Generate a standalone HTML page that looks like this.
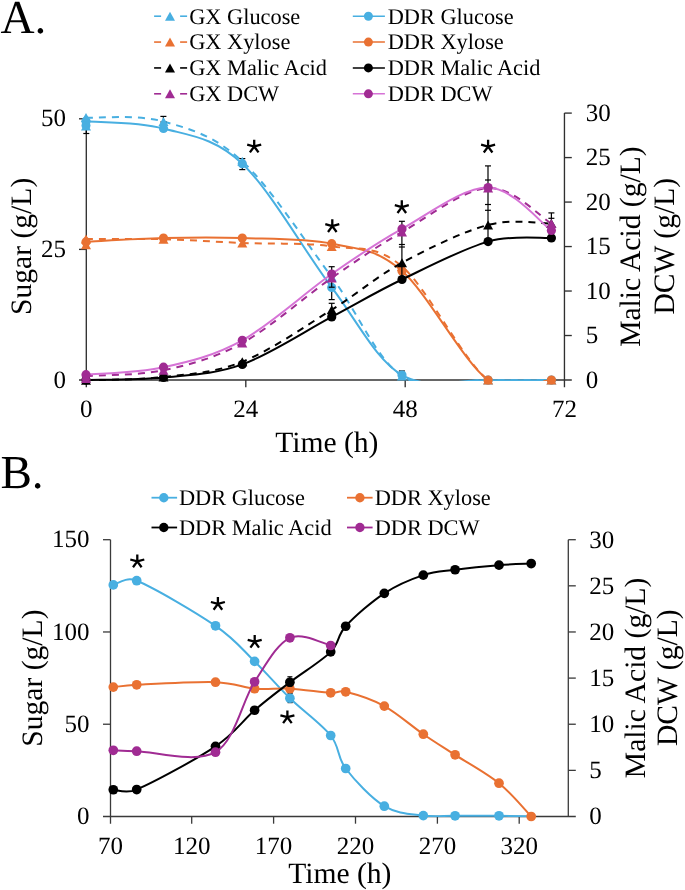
<!DOCTYPE html>
<html><head><meta charset="utf-8"><style>
html,body{margin:0;padding:0;background:#fff;width:685px;height:890px;overflow:hidden}
svg{display:block;will-change:transform}
text{font-family:"Liberation Serif", serif;fill:#000;text-rendering:geometricPrecision}
</style></head><body>
<svg width="685" height="890" viewBox="0 0 685 890">
<line x1="86.30" y1="117.00" x2="86.30" y2="387.30" stroke="#303030" stroke-width="1.35"/>
<line x1="564.45" y1="113.10" x2="564.45" y2="387.30" stroke="#303030" stroke-width="1.35"/>
<line x1="79.00" y1="380.00" x2="571.80" y2="380.00" stroke="#333333" stroke-width="1.50"/>
<line x1="79.00" y1="249.40" x2="86.30" y2="249.40" stroke="#303030" stroke-width="1.35"/>
<line x1="79.00" y1="118.80" x2="86.30" y2="118.80" stroke="#303030" stroke-width="1.35"/>
<line x1="564.45" y1="335.52" x2="571.80" y2="335.52" stroke="#303030" stroke-width="1.35"/>
<line x1="564.45" y1="291.03" x2="571.80" y2="291.03" stroke="#303030" stroke-width="1.35"/>
<line x1="564.45" y1="246.55" x2="571.80" y2="246.55" stroke="#303030" stroke-width="1.35"/>
<line x1="564.45" y1="202.07" x2="571.80" y2="202.07" stroke="#303030" stroke-width="1.35"/>
<line x1="564.45" y1="157.58" x2="571.80" y2="157.58" stroke="#303030" stroke-width="1.35"/>
<line x1="564.45" y1="113.10" x2="571.80" y2="113.10" stroke="#303030" stroke-width="1.35"/>
<line x1="245.80" y1="380.00" x2="245.80" y2="387.30" stroke="#303030" stroke-width="1.35"/>
<line x1="405.20" y1="380.00" x2="405.20" y2="387.30" stroke="#303030" stroke-width="1.35"/>
<clipPath id="ca"><rect x="80" y="100" width="490" height="281"/></clipPath>
<clipPath id="cb"><rect x="100" y="530" width="480" height="287.3"/></clipPath>
<g clip-path="url(#ca)">
<path d="M86.00,117.60 C98.92,118.25 137.45,114.22 163.50,121.50 C189.55,128.78 214.27,135.38 242.30,161.30 C270.33,187.22 305.08,241.22 331.70,277.00 C358.32,312.78 375.93,358.83 402.00,376.00 C428.07,393.17 463.20,379.33 488.10,380.00 C513.00,380.67 540.85,380.00 551.40,380.00" fill="none" stroke="#48AFE1" stroke-width="2.00" stroke-dasharray="7 6"/>
<path d="M86.00,121.20 C98.92,122.42 137.45,121.42 163.50,128.50 C189.55,135.58 214.27,137.22 242.30,163.70 C270.33,190.18 305.08,252.17 331.70,287.40 C358.32,322.63 375.93,359.67 402.00,375.10 C428.07,390.53 463.20,379.18 488.10,380.00 C513.00,380.82 540.85,380.00 551.40,380.00" fill="none" stroke="#48AFE1" stroke-width="2.00"/>
<path d="M86.00,239.10 C98.92,239.12 137.45,238.55 163.50,239.20 C189.55,239.85 214.27,241.80 242.30,243.00 C270.33,244.20 305.08,242.48 331.70,246.40 C358.32,250.32 375.93,244.23 402.00,266.50 C428.07,288.77 463.20,361.08 488.10,380.00 C513.00,398.92 540.85,380.00 551.40,380.00" fill="none" stroke="#E97132" stroke-width="2.00" stroke-dasharray="7 6"/>
<path d="M86.00,241.90 C98.92,241.27 137.45,238.73 163.50,238.10 C189.55,237.47 214.27,237.17 242.30,238.10 C270.33,239.03 305.08,238.22 331.70,243.70 C358.32,249.18 375.93,248.28 402.00,271.00 C428.07,293.72 463.20,361.83 488.10,380.00 C513.00,398.17 540.85,380.00 551.40,380.00" fill="none" stroke="#E97132" stroke-width="2.00"/>
<path d="M86.00,380.30 C98.92,379.75 137.45,380.08 163.50,377.00 C189.55,373.92 214.27,373.00 242.30,361.80 C270.33,350.60 305.08,326.30 331.70,309.80 C358.32,293.30 375.93,276.95 402.00,262.80 C428.07,248.65 463.20,231.43 488.10,224.90 C513.00,218.37 540.85,223.82 551.40,223.60" fill="none" stroke="#000000" stroke-width="2.00" stroke-dasharray="7 6"/>
<path d="M86.00,380.00 C98.92,379.58 137.45,380.10 163.50,377.50 C189.55,374.90 214.27,374.50 242.30,364.40 C270.33,354.30 305.08,331.05 331.70,316.90 C358.32,302.75 375.93,292.05 402.00,279.50 C428.07,266.95 463.20,248.52 488.10,241.60 C513.00,234.68 540.85,238.60 551.40,238.00" fill="none" stroke="#000000" stroke-width="2.00"/>
<path d="M86.00,376.00 C98.92,375.03 137.45,375.70 163.50,370.20 C189.55,364.70 214.27,358.37 242.30,343.00 C270.33,327.63 305.08,296.50 331.70,278.00 C358.32,259.50 375.93,247.00 402.00,232.00 C428.07,217.00 463.20,189.42 488.10,188.00 C513.00,186.58 540.85,217.58 551.40,223.50" fill="none" stroke="#A02B93" stroke-width="2.00" stroke-dasharray="7 6"/>
<path d="M86.00,374.70 C98.92,373.45 137.45,372.93 163.50,367.20 C189.55,361.47 214.27,355.83 242.30,340.30 C270.33,324.77 305.08,292.57 331.70,274.00 C358.32,255.43 375.93,243.30 402.00,228.90 C428.07,214.50 463.20,187.33 488.10,187.60 C513.00,187.87 540.85,223.35 551.40,230.50" fill="none" stroke="#D673D6" stroke-width="2.00"/>
</g>
<line x1="86.30" y1="126.00" x2="86.30" y2="133.50" stroke="#000" stroke-width="1.2"/><line x1="83.30" y1="133.50" x2="89.30" y2="133.50" stroke="#000" stroke-width="1.2"/>
<line x1="163.40" y1="116.40" x2="163.40" y2="122.00" stroke="#000" stroke-width="1.2"/><line x1="160.40" y1="116.40" x2="166.40" y2="116.40" stroke="#000" stroke-width="1.2"/><line x1="160.40" y1="122.00" x2="166.40" y2="122.00" stroke="#000" stroke-width="1.2"/>
<line x1="242.30" y1="158.60" x2="242.30" y2="169.60" stroke="#000" stroke-width="1.2"/><line x1="239.30" y1="158.60" x2="245.30" y2="158.60" stroke="#000" stroke-width="1.2"/><line x1="239.30" y1="169.60" x2="245.30" y2="169.60" stroke="#000" stroke-width="1.2"/>
<line x1="331.70" y1="287.40" x2="331.70" y2="299.60" stroke="#000" stroke-width="1.2"/><line x1="328.70" y1="299.60" x2="334.70" y2="299.60" stroke="#000" stroke-width="1.2"/>
<line x1="401.90" y1="371.00" x2="401.90" y2="375.00" stroke="#000" stroke-width="1.2"/><line x1="398.90" y1="371.00" x2="404.90" y2="371.00" stroke="#000" stroke-width="1.2"/>
<circle cx="86.00" cy="121.20" r="4.60" fill="#48AFE1"/>
<circle cx="163.50" cy="128.50" r="4.60" fill="#48AFE1"/>
<circle cx="242.30" cy="163.70" r="4.60" fill="#48AFE1"/>
<circle cx="331.70" cy="287.40" r="4.60" fill="#48AFE1"/>
<circle cx="402.00" cy="375.10" r="4.60" fill="#48AFE1"/>
<circle cx="488.10" cy="380.00" r="4.60" fill="#48AFE1"/>
<circle cx="551.40" cy="380.00" r="4.60" fill="#48AFE1"/>
<path d="M86.00,113.10 L91.00,122.10 L81.00,122.10 Z" fill="#48AFE1"/>
<path d="M163.50,117.00 L168.50,126.00 L158.50,126.00 Z" fill="#48AFE1"/>
<path d="M242.30,156.80 L247.30,165.80 L237.30,165.80 Z" fill="#48AFE1"/>
<path d="M331.70,272.50 L336.70,281.50 L326.70,281.50 Z" fill="#48AFE1"/>
<path d="M402.00,371.50 L407.00,380.50 L397.00,380.50 Z" fill="#48AFE1"/>
<path d="M488.10,375.50 L493.10,384.50 L483.10,384.50 Z" fill="#48AFE1"/>
<path d="M551.40,375.50 L556.40,384.50 L546.40,384.50 Z" fill="#48AFE1"/>
<circle cx="86.00" cy="241.90" r="4.60" fill="#E97132"/>
<circle cx="163.50" cy="238.10" r="4.60" fill="#E97132"/>
<circle cx="242.30" cy="238.10" r="4.60" fill="#E97132"/>
<circle cx="331.70" cy="243.70" r="4.60" fill="#E97132"/>
<circle cx="402.00" cy="271.00" r="4.60" fill="#E97132"/>
<circle cx="488.10" cy="380.00" r="4.60" fill="#E97132"/>
<circle cx="551.40" cy="380.00" r="4.60" fill="#E97132"/>
<path d="M86.00,234.60 L91.00,243.60 L81.00,243.60 Z" fill="#E97132"/>
<path d="M163.50,234.70 L168.50,243.70 L158.50,243.70 Z" fill="#E97132"/>
<path d="M242.30,238.50 L247.30,247.50 L237.30,247.50 Z" fill="#E97132"/>
<path d="M331.70,241.90 L336.70,250.90 L326.70,250.90 Z" fill="#E97132"/>
<path d="M402.00,262.00 L407.00,271.00 L397.00,271.00 Z" fill="#E97132"/>
<path d="M488.10,375.50 L493.10,384.50 L483.10,384.50 Z" fill="#E97132"/>
<path d="M551.40,375.50 L556.40,384.50 L546.40,384.50 Z" fill="#E97132"/>
<line x1="331.70" y1="266.70" x2="331.70" y2="287.20" stroke="#000" stroke-width="1.2"/><line x1="328.70" y1="266.70" x2="334.70" y2="266.70" stroke="#000" stroke-width="1.2"/><line x1="328.70" y1="287.20" x2="334.70" y2="287.20" stroke="#000" stroke-width="1.2"/>
<line x1="331.70" y1="303.30" x2="331.70" y2="311.00" stroke="#000" stroke-width="1.2"/><line x1="328.70" y1="303.30" x2="334.70" y2="303.30" stroke="#000" stroke-width="1.2"/>
<line x1="401.90" y1="221.30" x2="401.90" y2="278.00" stroke="#000" stroke-width="1.2"/><line x1="398.90" y1="221.30" x2="404.90" y2="221.30" stroke="#000" stroke-width="1.2"/><line x1="398.90" y1="244.50" x2="404.90" y2="244.50" stroke="#000" stroke-width="1.2"/><line x1="398.90" y1="247.00" x2="404.90" y2="247.00" stroke="#000" stroke-width="1.2"/>
<line x1="488.00" y1="165.90" x2="488.00" y2="240.00" stroke="#000" stroke-width="1.2"/><line x1="485.00" y1="165.90" x2="491.00" y2="165.90" stroke="#000" stroke-width="1.2"/><line x1="485.00" y1="180.00" x2="491.00" y2="180.00" stroke="#000" stroke-width="1.2"/><line x1="485.00" y1="204.50" x2="491.00" y2="204.50" stroke="#000" stroke-width="1.2"/><line x1="485.00" y1="210.30" x2="491.00" y2="210.30" stroke="#000" stroke-width="1.2"/>
<line x1="551.40" y1="212.90" x2="551.40" y2="222.00" stroke="#000" stroke-width="1.2"/><line x1="548.40" y1="212.90" x2="554.40" y2="212.90" stroke="#000" stroke-width="1.2"/><line x1="548.40" y1="218.30" x2="554.40" y2="218.30" stroke="#000" stroke-width="1.2"/>
<circle cx="86.00" cy="380.00" r="4.60" fill="#000000"/>
<circle cx="163.50" cy="377.50" r="4.60" fill="#000000"/>
<circle cx="242.30" cy="364.40" r="4.60" fill="#000000"/>
<circle cx="331.70" cy="316.90" r="4.60" fill="#000000"/>
<circle cx="402.00" cy="279.50" r="4.60" fill="#000000"/>
<circle cx="488.10" cy="241.60" r="4.60" fill="#000000"/>
<circle cx="551.40" cy="238.00" r="4.60" fill="#000000"/>
<path d="M86.00,375.80 L91.00,384.80 L81.00,384.80 Z" fill="#000000"/>
<path d="M163.50,372.50 L168.50,381.50 L158.50,381.50 Z" fill="#000000"/>
<path d="M242.30,357.30 L247.30,366.30 L237.30,366.30 Z" fill="#000000"/>
<path d="M331.70,305.30 L336.70,314.30 L326.70,314.30 Z" fill="#000000"/>
<path d="M402.00,258.30 L407.00,267.30 L397.00,267.30 Z" fill="#000000"/>
<path d="M488.10,220.40 L493.10,229.40 L483.10,229.40 Z" fill="#000000"/>
<path d="M551.40,219.10 L556.40,228.10 L546.40,228.10 Z" fill="#000000"/>
<circle cx="86.00" cy="374.70" r="4.60" fill="#A02B93"/>
<circle cx="163.50" cy="367.20" r="4.60" fill="#A02B93"/>
<circle cx="242.30" cy="340.30" r="4.60" fill="#A02B93"/>
<circle cx="331.70" cy="274.00" r="4.60" fill="#A02B93"/>
<circle cx="402.00" cy="228.90" r="4.60" fill="#A02B93"/>
<circle cx="488.10" cy="187.60" r="4.60" fill="#A02B93"/>
<circle cx="551.40" cy="230.50" r="4.60" fill="#A02B93"/>
<path d="M86.00,371.50 L91.00,380.50 L81.00,380.50 Z" fill="#A02B93"/>
<path d="M163.50,365.70 L168.50,374.70 L158.50,374.70 Z" fill="#A02B93"/>
<path d="M242.30,338.50 L247.30,347.50 L237.30,347.50 Z" fill="#A02B93"/>
<path d="M331.70,273.50 L336.70,282.50 L326.70,282.50 Z" fill="#A02B93"/>
<path d="M402.00,227.50 L407.00,236.50 L397.00,236.50 Z" fill="#A02B93"/>
<path d="M488.10,183.50 L493.10,192.50 L483.10,192.50 Z" fill="#A02B93"/>
<path d="M551.40,219.00 L556.40,228.00 L546.40,228.00 Z" fill="#A02B93"/>
<circle cx="86.00" cy="125.50" r="4.50" fill="#48AFE1"/>
<path d="M86.00,121.60 L91.00,130.60 L81.00,130.60 Z" fill="#48AFE1"/>
<path d="M86.00,240.20 L91.00,249.20 L81.00,249.20 Z" fill="#E97132"/>
<path d="M86.00,374.10 L91.00,383.10 L81.00,383.10 Z" fill="#A02B93"/>
<path d="M254.20,146.50 L254.20,139.70 M254.20,146.50 L247.20,144.60 M254.20,146.50 L261.20,144.60 M254.20,146.50 L249.90,152.40 M254.20,146.50 L258.50,152.40" stroke="#000" stroke-width="2.3" fill="none"/>
<path d="M332.30,226.10 L332.30,219.30 M332.30,226.10 L325.30,224.20 M332.30,226.10 L339.30,224.20 M332.30,226.10 L328.00,232.00 M332.30,226.10 L336.60,232.00" stroke="#000" stroke-width="2.3" fill="none"/>
<path d="M401.80,207.10 L401.80,200.30 M401.80,207.10 L394.80,205.20 M401.80,207.10 L408.80,205.20 M401.80,207.10 L397.50,213.00 M401.80,207.10 L406.10,213.00" stroke="#000" stroke-width="2.3" fill="none"/>
<path d="M488.10,146.60 L488.10,139.80 M488.10,146.60 L481.10,144.70 M488.10,146.60 L495.10,144.70 M488.10,146.60 L483.80,152.50 M488.10,146.60 L492.40,152.50" stroke="#000" stroke-width="2.3" fill="none"/>
<text x="66.00" y="387.60" font-size="25.00" text-anchor="end">0</text>
<text x="66.00" y="257.00" font-size="25.00" text-anchor="end">25</text>
<text x="66.00" y="126.40" font-size="25.00" text-anchor="end">50</text>
<text x="585.80" y="387.90" font-size="25.00" text-anchor="start">0</text>
<text x="585.80" y="343.42" font-size="25.00" text-anchor="start">5</text>
<text x="585.80" y="298.93" font-size="25.00" text-anchor="start">10</text>
<text x="585.80" y="254.45" font-size="25.00" text-anchor="start">15</text>
<text x="585.80" y="209.97" font-size="25.00" text-anchor="start">20</text>
<text x="585.80" y="165.48" font-size="25.00" text-anchor="start">25</text>
<text x="585.80" y="121.00" font-size="25.00" text-anchor="start">30</text>
<text x="86.30" y="416.80" font-size="25.00" text-anchor="middle">0</text>
<text x="245.80" y="416.80" font-size="25.00" text-anchor="middle">24</text>
<text x="405.20" y="416.80" font-size="25.00" text-anchor="middle">48</text>
<text x="564.45" y="416.80" font-size="25.00" text-anchor="middle">72</text>
<text x="326.80" y="451.70" font-size="29.60" text-anchor="middle">Time (h)</text>
<text x="30.80" y="246.40" font-size="29.60" text-anchor="middle" transform="rotate(-90 30.80 246.40)">Sugar (g/L)</text>
<text x="640.50" y="246.60" font-size="29.60" text-anchor="middle" transform="rotate(-90 640.50 246.60)">Malic Acid (g/L)</text>
<text x="674.10" y="246.20" font-size="29.60" text-anchor="middle" transform="rotate(-90 674.10 246.20)">DCW (g/L)</text>
<text x="0.40" y="32.90" font-size="47.20" text-anchor="start">A.</text>
<line x1="154.10" y1="16.20" x2="161.10" y2="16.20" stroke="#48AFE1" stroke-width="1.60"/>
<line x1="180.10" y1="16.20" x2="187.10" y2="16.20" stroke="#48AFE1" stroke-width="1.60"/>
<path d="M170.00,11.70 L175.00,20.70 L165.00,20.70 Z" fill="#48AFE1"/>
<text x="189.20" y="23.50" font-size="22.35" text-anchor="start">GX Glucose</text>
<line x1="352.80" y1="16.20" x2="384.90" y2="16.20" stroke="#48AFE1" stroke-width="1.60"/>
<circle cx="368.40" cy="16.20" r="4.50" fill="#48AFE1"/>
<text x="387.70" y="23.50" font-size="22.35" text-anchor="start">DDR Glucose</text>
<line x1="154.10" y1="42.07" x2="161.10" y2="42.07" stroke="#E97132" stroke-width="1.60"/>
<line x1="180.10" y1="42.07" x2="187.10" y2="42.07" stroke="#E97132" stroke-width="1.60"/>
<path d="M170.00,37.57 L175.00,46.57 L165.00,46.57 Z" fill="#E97132"/>
<text x="189.20" y="49.37" font-size="22.35" text-anchor="start">GX Xylose</text>
<line x1="352.80" y1="42.07" x2="384.90" y2="42.07" stroke="#E97132" stroke-width="1.60"/>
<circle cx="368.40" cy="42.07" r="4.50" fill="#E97132"/>
<text x="387.70" y="49.37" font-size="22.35" text-anchor="start">DDR Xylose</text>
<line x1="154.10" y1="67.94" x2="161.10" y2="67.94" stroke="#000000" stroke-width="1.60"/>
<line x1="180.10" y1="67.94" x2="187.10" y2="67.94" stroke="#000000" stroke-width="1.60"/>
<path d="M170.00,63.44 L175.00,72.44 L165.00,72.44 Z" fill="#000000"/>
<text x="189.20" y="75.24" font-size="22.35" text-anchor="start">GX Malic Acid</text>
<line x1="352.80" y1="67.94" x2="384.90" y2="67.94" stroke="#000000" stroke-width="1.60"/>
<circle cx="368.40" cy="67.94" r="4.50" fill="#000000"/>
<text x="387.70" y="75.24" font-size="22.35" text-anchor="start">DDR Malic Acid</text>
<line x1="154.10" y1="93.81" x2="161.10" y2="93.81" stroke="#A02B93" stroke-width="1.60"/>
<line x1="180.10" y1="93.81" x2="187.10" y2="93.81" stroke="#A02B93" stroke-width="1.60"/>
<path d="M170.00,89.31 L175.00,98.31 L165.00,98.31 Z" fill="#A02B93"/>
<text x="189.20" y="101.11" font-size="22.35" text-anchor="start">GX DCW</text>
<line x1="352.80" y1="93.81" x2="384.90" y2="93.81" stroke="#D673D6" stroke-width="1.60"/>
<circle cx="368.40" cy="93.81" r="4.50" fill="#A02B93"/>
<text x="387.70" y="101.11" font-size="22.35" text-anchor="start">DDR DCW</text>
<line x1="110.50" y1="539.70" x2="110.50" y2="823.70" stroke="#3a3a3a" stroke-width="1.30"/>
<line x1="568.30" y1="539.70" x2="568.30" y2="816.50" stroke="#3a3a3a" stroke-width="1.30"/>
<line x1="103.00" y1="816.50" x2="575.80" y2="816.50" stroke="#3a3a3a" stroke-width="1.30"/>
<line x1="103.00" y1="724.23" x2="110.50" y2="724.23" stroke="#3a3a3a" stroke-width="1.30"/>
<line x1="103.00" y1="631.97" x2="110.50" y2="631.97" stroke="#3a3a3a" stroke-width="1.30"/>
<line x1="103.00" y1="539.70" x2="110.50" y2="539.70" stroke="#3a3a3a" stroke-width="1.30"/>
<line x1="568.30" y1="770.37" x2="575.80" y2="770.37" stroke="#3a3a3a" stroke-width="1.30"/>
<line x1="568.30" y1="724.23" x2="575.80" y2="724.23" stroke="#3a3a3a" stroke-width="1.30"/>
<line x1="568.30" y1="678.10" x2="575.80" y2="678.10" stroke="#3a3a3a" stroke-width="1.30"/>
<line x1="568.30" y1="631.97" x2="575.80" y2="631.97" stroke="#3a3a3a" stroke-width="1.30"/>
<line x1="568.30" y1="585.83" x2="575.80" y2="585.83" stroke="#3a3a3a" stroke-width="1.30"/>
<line x1="568.30" y1="539.70" x2="575.80" y2="539.70" stroke="#3a3a3a" stroke-width="1.30"/>
<line x1="191.70" y1="816.50" x2="191.70" y2="823.70" stroke="#3a3a3a" stroke-width="1.30"/>
<line x1="273.60" y1="816.50" x2="273.60" y2="823.70" stroke="#3a3a3a" stroke-width="1.30"/>
<line x1="355.50" y1="816.50" x2="355.50" y2="823.70" stroke="#3a3a3a" stroke-width="1.30"/>
<line x1="437.40" y1="816.50" x2="437.40" y2="823.70" stroke="#3a3a3a" stroke-width="1.30"/>
<line x1="519.20" y1="816.50" x2="519.20" y2="823.70" stroke="#3a3a3a" stroke-width="1.30"/>
<path d="M113.30,584.90 C117.20,584.20 125.66,576.28 136.70,580.70 C153.73,587.52 195.85,612.35 215.50,625.80 C235.15,639.25 242.20,649.33 254.60,661.40 C267.00,673.47 277.22,685.85 289.90,698.20 C302.58,710.55 321.40,723.78 330.70,735.50 C340.00,747.22 336.77,756.72 345.70,768.50 C354.63,780.28 371.37,798.35 384.30,806.20 C397.23,814.05 411.50,814.00 423.30,815.60 C435.10,817.20 442.48,815.77 455.10,815.80 C467.72,815.83 486.32,815.72 499.00,815.80 C511.68,815.88 525.83,816.22 531.20,816.30" fill="none" stroke="#48AFE1" stroke-width="2.00" clip-path="url(#cb)"/>
<line x1="290.10" y1="693.40" x2="290.10" y2="702.60" stroke="#000" stroke-width="1.2"/><line x1="287.60" y1="693.40" x2="292.60" y2="693.40" stroke="#000" stroke-width="1.2"/><line x1="287.60" y1="702.60" x2="292.60" y2="702.60" stroke="#000" stroke-width="1.2"/>
<circle cx="113.30" cy="584.90" r="4.85" fill="#48AFE1"/>
<circle cx="136.70" cy="580.70" r="4.85" fill="#48AFE1"/>
<circle cx="215.50" cy="625.80" r="4.85" fill="#48AFE1"/>
<circle cx="254.60" cy="661.40" r="4.85" fill="#48AFE1"/>
<circle cx="289.90" cy="698.20" r="4.85" fill="#48AFE1"/>
<circle cx="330.70" cy="735.50" r="4.85" fill="#48AFE1"/>
<circle cx="345.70" cy="768.50" r="4.85" fill="#48AFE1"/>
<circle cx="384.30" cy="806.20" r="4.85" fill="#48AFE1"/>
<circle cx="423.30" cy="815.60" r="4.85" fill="#48AFE1"/>
<circle cx="455.10" cy="815.80" r="4.85" fill="#48AFE1"/>
<circle cx="499.00" cy="815.80" r="4.85" fill="#48AFE1"/>
<path d="M113.30,687.10 C117.20,686.72 124.96,685.36 136.70,684.80 C153.73,683.98 195.85,681.55 215.50,682.20 C235.15,682.85 242.20,687.62 254.60,688.70 C267.00,689.78 277.22,688.02 289.90,688.70 C302.58,689.38 321.40,692.28 330.70,692.80 C338.21,693.22 338.40,689.99 345.70,691.80 C354.63,694.02 371.37,699.03 384.30,706.10 C397.23,713.17 411.50,726.08 423.30,734.20 C435.10,742.32 442.48,746.63 455.10,754.80 C467.72,762.97 486.32,772.92 499.00,783.20 C511.68,793.48 525.83,810.95 531.20,816.50" fill="none" stroke="#E97132" stroke-width="2.00" clip-path="url(#cb)"/>
<circle cx="113.30" cy="687.10" r="4.85" fill="#E97132"/>
<circle cx="136.70" cy="684.80" r="4.85" fill="#E97132"/>
<circle cx="215.50" cy="682.20" r="4.85" fill="#E97132"/>
<circle cx="254.60" cy="688.70" r="4.85" fill="#E97132"/>
<circle cx="289.90" cy="688.70" r="4.85" fill="#E97132"/>
<circle cx="330.70" cy="692.80" r="4.85" fill="#E97132"/>
<circle cx="345.70" cy="691.80" r="4.85" fill="#E97132"/>
<circle cx="384.30" cy="706.10" r="4.85" fill="#E97132"/>
<circle cx="423.30" cy="734.20" r="4.85" fill="#E97132"/>
<circle cx="455.10" cy="754.80" r="4.85" fill="#E97132"/>
<circle cx="499.00" cy="783.20" r="4.85" fill="#E97132"/>
<circle cx="531.20" cy="816.50" r="4.85" fill="#E97132"/>
<path d="M113.30,789.75 C117.20,789.72 125.93,794.12 136.70,789.55 C153.73,782.32 195.85,759.57 215.50,746.35 C235.15,733.13 242.20,720.93 254.60,710.25 C267.00,699.57 277.22,691.98 289.90,682.25 C302.58,672.52 321.40,661.18 330.70,651.85 C340.00,642.52 336.77,636.00 345.70,626.25 C354.63,616.50 371.37,601.87 384.30,593.35 C397.23,584.83 411.50,579.08 423.30,575.15 C435.10,571.22 442.48,571.42 455.10,569.75 C467.72,568.08 486.32,566.18 499.00,565.15 C511.68,564.12 525.83,563.82 531.20,563.55" fill="none" stroke="#000000" stroke-width="2.00"/>
<line x1="289.90" y1="676.80" x2="289.90" y2="686.00" stroke="#000" stroke-width="1.2"/><line x1="287.40" y1="676.80" x2="292.40" y2="676.80" stroke="#000" stroke-width="1.2"/><line x1="287.40" y1="686.00" x2="292.40" y2="686.00" stroke="#000" stroke-width="1.2"/>
<circle cx="113.30" cy="789.75" r="4.85" fill="#000000"/>
<circle cx="136.70" cy="789.55" r="4.85" fill="#000000"/>
<circle cx="215.50" cy="746.35" r="4.85" fill="#000000"/>
<circle cx="254.60" cy="710.25" r="4.85" fill="#000000"/>
<circle cx="289.90" cy="682.25" r="4.85" fill="#000000"/>
<circle cx="330.70" cy="651.85" r="4.85" fill="#000000"/>
<circle cx="345.70" cy="626.25" r="4.85" fill="#000000"/>
<circle cx="384.30" cy="593.35" r="4.85" fill="#000000"/>
<circle cx="423.30" cy="575.15" r="4.85" fill="#000000"/>
<circle cx="455.10" cy="569.75" r="4.85" fill="#000000"/>
<circle cx="499.00" cy="565.15" r="4.85" fill="#000000"/>
<circle cx="531.20" cy="563.55" r="4.85" fill="#000000"/>
<path d="M113.30,750.30 C117.20,750.45 124.99,750.98 136.70,751.20 C153.73,751.52 195.85,763.77 215.50,752.20 C235.15,740.63 242.20,700.87 254.60,681.80 C267.00,662.73 277.22,643.85 289.90,637.80 C302.58,631.75 323.90,644.22 330.70,645.50" fill="none" stroke="#A02B93" stroke-width="2.00"/>
<circle cx="113.30" cy="750.30" r="4.85" fill="#A02B93"/>
<circle cx="136.70" cy="751.20" r="4.85" fill="#A02B93"/>
<circle cx="215.50" cy="752.20" r="4.85" fill="#A02B93"/>
<circle cx="254.60" cy="681.80" r="4.85" fill="#A02B93"/>
<circle cx="289.90" cy="637.80" r="4.85" fill="#A02B93"/>
<circle cx="330.70" cy="645.50" r="4.85" fill="#A02B93"/>
<path d="M137.30,561.40 L137.30,554.60 M137.30,561.40 L130.30,559.50 M137.30,561.40 L144.30,559.50 M137.30,561.40 L133.00,567.30 M137.30,561.40 L141.60,567.30" stroke="#000" stroke-width="2.3" fill="none"/>
<path d="M217.90,603.90 L217.90,597.10 M217.90,603.90 L210.90,602.00 M217.90,603.90 L224.90,602.00 M217.90,603.90 L213.60,609.80 M217.90,603.90 L222.20,609.80" stroke="#000" stroke-width="2.3" fill="none"/>
<path d="M254.70,641.70 L254.70,634.90 M254.70,641.70 L247.70,639.80 M254.70,641.70 L261.70,639.80 M254.70,641.70 L250.40,647.60 M254.70,641.70 L259.00,647.60" stroke="#000" stroke-width="2.3" fill="none"/>
<path d="M287.40,717.20 L287.40,710.40 M287.40,717.20 L280.40,715.30 M287.40,717.20 L294.40,715.30 M287.40,717.20 L283.10,723.10 M287.40,717.20 L291.70,723.10" stroke="#000" stroke-width="2.3" fill="none"/>
<text x="89.40" y="824.10" font-size="25.00" text-anchor="end">0</text>
<text x="89.40" y="731.83" font-size="25.00" text-anchor="end">50</text>
<text x="89.40" y="639.57" font-size="25.00" text-anchor="end">100</text>
<text x="89.40" y="547.30" font-size="25.00" text-anchor="end">150</text>
<text x="589.30" y="824.40" font-size="25.00" text-anchor="start">0</text>
<text x="589.30" y="778.27" font-size="25.00" text-anchor="start">5</text>
<text x="589.30" y="732.13" font-size="25.00" text-anchor="start">10</text>
<text x="589.30" y="686.00" font-size="25.00" text-anchor="start">15</text>
<text x="589.30" y="639.87" font-size="25.00" text-anchor="start">20</text>
<text x="589.30" y="593.73" font-size="25.00" text-anchor="start">25</text>
<text x="589.30" y="547.60" font-size="25.00" text-anchor="start">30</text>
<text x="110.50" y="854.30" font-size="25.00" text-anchor="middle">70</text>
<text x="191.70" y="854.30" font-size="25.00" text-anchor="middle">120</text>
<text x="273.60" y="854.30" font-size="25.00" text-anchor="middle">170</text>
<text x="355.50" y="854.30" font-size="25.00" text-anchor="middle">220</text>
<text x="437.40" y="854.30" font-size="25.00" text-anchor="middle">270</text>
<text x="519.20" y="854.30" font-size="25.00" text-anchor="middle">320</text>
<text x="339.80" y="883.00" font-size="29.60" text-anchor="middle">Time (h)</text>
<text x="42.50" y="678.10" font-size="29.60" text-anchor="middle" transform="rotate(-90 42.50 678.10)">Sugar (g/L)</text>
<text x="644.60" y="677.90" font-size="29.60" text-anchor="middle" transform="rotate(-90 644.60 677.90)">Malic Acid (g/L)</text>
<text x="677.50" y="677.70" font-size="29.60" text-anchor="middle" transform="rotate(-90 677.50 677.70)">DCW (g/L)</text>
<text x="0.40" y="487.90" font-size="47.20" text-anchor="start">B.</text>
<line x1="151.50" y1="497.70" x2="177.10" y2="497.70" stroke="#48AFE1" stroke-width="1.80"/>
<circle cx="163.80" cy="497.70" r="4.70" fill="#48AFE1"/>
<text x="178.90" y="504.70" font-size="22.35" text-anchor="start">DDR Glucose</text>
<line x1="151.50" y1="527.50" x2="177.10" y2="527.50" stroke="#000000" stroke-width="1.80"/>
<circle cx="163.80" cy="527.50" r="4.70" fill="#000000"/>
<text x="178.90" y="534.50" font-size="22.35" text-anchor="start">DDR Malic Acid</text>
<line x1="347.00" y1="497.70" x2="372.60" y2="497.70" stroke="#E97132" stroke-width="1.80"/>
<circle cx="359.90" cy="497.70" r="4.70" fill="#E97132"/>
<text x="374.70" y="504.70" font-size="22.35" text-anchor="start">DDR Xylose</text>
<line x1="347.00" y1="527.50" x2="372.60" y2="527.50" stroke="#A02B93" stroke-width="1.80"/>
<circle cx="359.90" cy="527.50" r="4.70" fill="#A02B93"/>
<text x="374.70" y="534.50" font-size="22.35" text-anchor="start">DDR DCW</text>
</svg>
</body></html>
